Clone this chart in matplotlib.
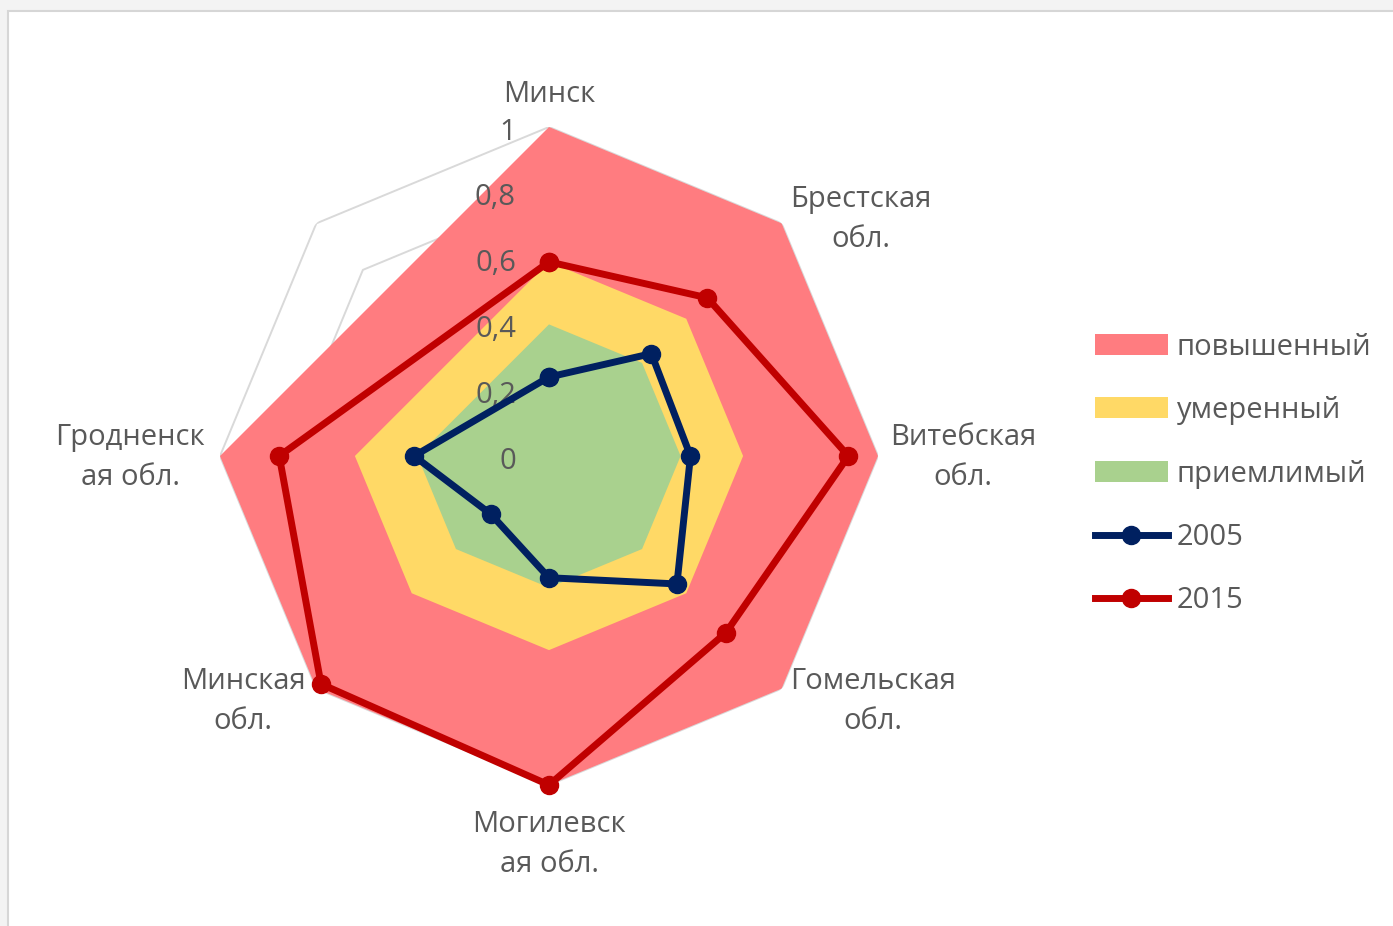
import numpy as np
import matplotlib.pyplot as plt
from matplotlib.patches import Rectangle, Patch
from matplotlib.lines import Line2D

plt.rcParams['font.family'] = ['Open Sans', 'DejaVu Sans']

# categories (the 8th axis has no label and no data)
categories = ['Минск', 'Брестская\nобл.', 'Витебская\nобл.', 'Гомельская\nобл.',
              'Могилевск\nая обл.', 'Минская\nобл.', 'Гродненск\nая обл.', '']

# zone bands
high = [1.0, 1.0, 1.0, 1.0, 1.0, 1.0, 1.0]          # повышенный
moderate = [0.59, 0.59, 0.59, 0.59, 0.59, 0.59, 0.59]  # умеренный
acceptable = [0.4, 0.4, 0.4, 0.4, 0.4, 0.4, 0.4]     # приемлимый

# yearly values
y2005 = [0.24, 0.44, 0.43, 0.55, 0.37, 0.25, 0.41]
y2015 = [0.59, 0.68, 0.91, 0.76, 1.0, 0.98, 0.82]

rticks = [0, 0.2, 0.4, 0.6, 0.8, 1.0]

gray_txt = '#595959'
fs = 21
W, H = 1393, 926

fig = plt.figure(figsize=(W / 100, H / 100), dpi=100, facecolor='#f3f3f3')
fig.add_artist(Rectangle((8 / W, -0.02), 1.0, 1 - 11 / H + 0.02, transform=fig.transFigure,
                         facecolor='white', edgecolor='#d6d6d6', linewidth=1.5, zorder=-5))

ax = fig.add_axes([220 / W, 1 - 785 / H, 658 / W, 658 / H], projection='polar')
ax.set_theta_offset(np.pi / 2)
ax.set_theta_direction(-1)
ax.set_ylim(0, 1)
ax.set_xticks([])
ax.set_yticks([])
ax.grid(False)
ax.spines['polar'].set_visible(False)
ax.patch.set_visible(False)

n = len(categories)
theta = np.arange(n) * 2 * np.pi / n
ring = np.append(theta, 2 * np.pi)

# polygonal grid
for r in rticks[1:]:
    ax.plot(ring, [r] * len(ring), color='#d9d9d9', lw=1.4, zorder=1)

def closed(vals):
    th = np.append(theta[:len(vals)], 2 * np.pi)
    return th, np.append(vals, vals[0])

for vals, col in [(high, '#ff7c80'), (moderate, '#ffd966'), (acceptable, '#a9d18e')]:
    th, v = closed(vals)
    ax.fill(th, v, color=col, lw=0, zorder=2)

# radial value labels
for r in rticks:
    ax.annotate(f'{r:g}'.replace('.', ','), xy=(0, r), xytext=(-33, -5),
                textcoords='offset pixels', ha='right', va='center',
                fontsize=fs, color=gray_txt, zorder=3)

for vals, col in [(y2005, '#002060'), (y2015, '#c00000')]:
    th, v = closed(vals)
    ax.plot(th, v, color=col, lw=5, marker='o', ms=13, clip_on=False, zorder=5)

# category labels
offsets = [(0, 33), (79, 4), (85, -1), (91, -13), (0, -60), (-73, -13), (-90, -1), (0, 0)]
for t, lab, off in zip(theta, categories, offsets):
    if lab:
        ax.annotate(lab, xy=(t, 1.0), xytext=off, textcoords='offset pixels',
                    ha='center', va='center', multialignment='center',
                    fontsize=fs, color=gray_txt, linespacing=1.5, annotation_clip=False)

handles = [Patch(facecolor='#ff7c80'), Patch(facecolor='#ffd966'), Patch(facecolor='#a9d18e'),
           Line2D([], [], color='#002060', lw=5, marker='o', ms=13),
           Line2D([], [], color='#c00000', lw=5, marker='o', ms=13)]
labels = ['повышенный', 'умеренный', 'приемлимый', '2005', '2015']
fig.legend(handles, labels, loc='center left', bbox_to_anchor=(1095 / W, 1 - 474 / H),
           frameon=False, fontsize=fs, handlelength=2.5, handleheight=0.72,
           handletextpad=0.3, labelspacing=1.18, borderpad=0, borderaxespad=0,
           labelcolor=gray_txt)

fig.savefig('out.png', dpi=100, facecolor=fig.get_facecolor())
